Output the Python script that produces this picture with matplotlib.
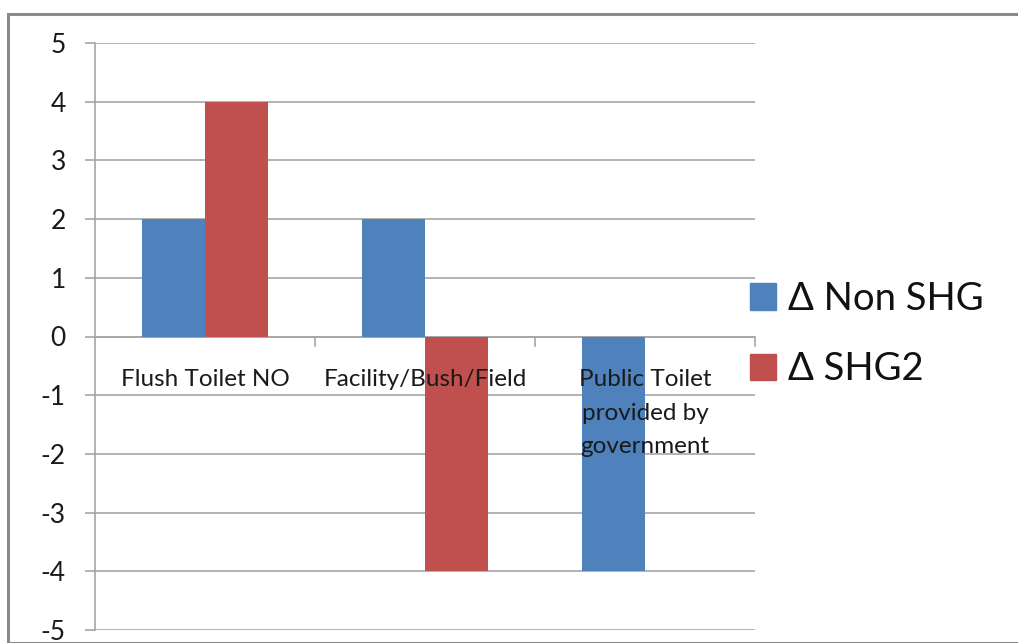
import matplotlib.pyplot as plt
import numpy as np
from matplotlib.patches import Rectangle, Patch

plt.rcParams["font.family"] = ["Lato", "DejaVu Sans"]
plt.rcParams["axes.unicode_minus"] = False

# Data
categories = ["Flush Toilet NO", "Facility/Bush/Field", "Public Toilet\nprovided by\ngovernment"]
non_shg = [2, 2, -4]
shg2 = [4, -4, 0]
series_names = ["\u0394 Non SHG", "\u0394 SHG2"]
colors = ["#4F81BD", "#C0504D"]

fig = plt.figure(figsize=(10.18, 6.43), dpi=100)
ax = fig.add_axes([95 / 1018, 13 / 643, 660 / 1018, 587 / 643])

# Outer chart border (Excel-style)
fig.patches.append(
    Rectangle((8 / 1018, 0), 1.0, 629 / 643, transform=fig.transFigure,
              fill=False, edgecolor="#8a8a8a", linewidth=2.2, zorder=0)
)

x = np.arange(len(categories))
width = 1 / 3.5
ax.bar(x - width / 2, non_shg, width, color=colors[0], zorder=2)
ax.bar(x + width / 2, shg2, width, color=colors[1], zorder=2)

ax.set_xlim(-0.5, 2.5)
ax.set_ylim(-5, 5)
ax.set_yticks(range(-5, 6))
ax.grid(axis="y", color="#a6a6a6", linewidth=1.2, zorder=0)
ax.tick_params(axis="y", length=7, width=1.2, color="#a6a6a6", labelsize=19,
               pad=14, labelcolor="#1a1a1a")
ax.set_xticks([])

for s in ["top", "right", "bottom"]:
    ax.spines[s].set_visible(False)
ax.spines["left"].set_color("#a6a6a6")
ax.spines["left"].set_linewidth(1.2)

# zero line with category separators
ax.axhline(0, color="#a6a6a6", linewidth=1.2, zorder=1)
for b in [0.5, 1.5, 2.5]:
    ax.plot([b, b], [0, -0.16], color="#a6a6a6", linewidth=1.2, zorder=1, clip_on=False)

for i, lab in enumerate(categories):
    ax.text(i, -0.55, lab, ha="center", va="top", fontsize=17.5,
            color="#1a1a1a", linespacing=1.75, zorder=3)

handles = [Patch(color=c) for c in colors]
fig.legend(handles, series_names, loc="center left",
           bbox_to_anchor=(716 / 1018, 1 - 334 / 643), frameon=False,
           fontsize=27.5, handlelength=0.68, handleheight=0.68,
           handletextpad=0.3, labelspacing=0.9, labelcolor="#111111")

fig.savefig("out.png", dpi=100)
